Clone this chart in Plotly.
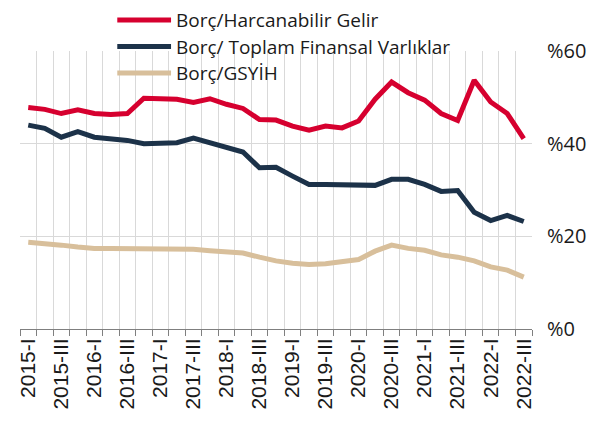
import plotly.graph_objects as go

categories = [f"{y}-{q}" for y in range(2015, 2023) for q in ["I", "II", "III", "IV"]][:31]

borc_harcanabilir = [47.8, 47.4, 46.5, 47.3, 46.5, 46.3, 46.5, 49.8, 49.7, 49.6,
                     48.9, 49.7, 48.5, 47.6, 45.2, 45.1, 43.8, 42.9, 43.8, 43.4,
                     44.9, 49.6, 53.3, 51.0, 49.4, 46.5, 45.0, 53.7, 49.0, 46.5, 41.1]
borc_finansal = [44.0, 43.3, 41.4, 42.6, 41.4, 41.1, 40.7, 40.0, 40.0, 40.2,
                 41.2, 40.2, 39.2, 38.2, 34.8, 34.9, 33.0, 31.2, 31.2, 31.2,
                 31.2, 31.0, 32.3, 32.3, 31.2, 29.7, 29.9, 25.2, 23.4, 24.5, 23.2]
borc_gsyih = [18.7, 18.5, 18.1, 17.7, 17.4, 17.4, 17.4, 17.4, 17.4, 17.3,
              17.2, 16.9, 16.6, 16.4, 15.5, 14.7, 14.2, 13.9, 14.1, 14.6,
              15.0, 16.8, 18.1, 17.4, 17.0, 16.0, 15.5, 14.7, 13.4, 12.7, 11.2]

series_names = ["Borç/Harcanabilir Gelir", "Borç/ Toplam Finansal Varlıklar", "Borç/GSYİH"]
series_colors = ["#D6002F", "#1C3249", "#D8BF9B"]
series_values = [borc_harcanabilir, borc_finansal, borc_gsyih]

y_ticks = [0, 20, 40, 60]
y_ticktext = ["%0", "%20", "%40", "%60"]

xs = list(range(len(categories)))

fig = go.Figure()
for name, color, vals in zip(series_names, series_colors, series_values):
    fig.add_trace(go.Scatter(x=xs, y=vals, mode="lines", name=name,
                             line=dict(color=color, width=5),
                             showlegend=False))

# manual legend (longer line samples like the reference)
leg_y = [1.1115, 1.016, 0.921]
for name, color, yy in zip(series_names, series_colors, leg_y):
    fig.add_shape(type="line", xref="paper", yref="paper",
                  x0=0.190, x1=0.295, y0=yy, y1=yy,
                  line=dict(color=color, width=5))
    fig.add_annotation(xref="paper", yref="paper", x=0.301, y=yy,
                       text=name, showarrow=False, xanchor="left", yanchor="middle",
                       font=dict(family="Open Sans", size=19, color="#1a1a1a"))

# the page has an 8px body margin, so the figure is sized to fit the window
fig.update_layout(
    width=600, height=416,
    margin=dict(l=8, r=76, t=43, b=95),
    paper_bgcolor="white", plot_bgcolor="white",
    showlegend=False,
    font=dict(family="Open Sans", color="#1a1a1a"),
)

fig.update_xaxes(
    range=[-0.5, len(categories) - 0.5],
    tickmode="array",
    tickvals=xs[::2], ticktext=categories[::2],
    tickangle=-90,
    tickfont=dict(family="Liberation Sans Narrow, Arial Narrow, sans-serif", size=21, color="#1a1a1a"),
    showgrid=False, ticks="",
    showline=True, linecolor="#7f7f7f", linewidth=1,
    zeroline=False,
    minor=dict(tickmode="array", tickvals=[i - 0.5 for i in range(len(categories) + 1)],
               showgrid=True, gridcolor="#d9d9d9", gridwidth=1,
               ticks="outside", ticklen=6, tickcolor="#7f7f7f", tickwidth=1),
)

fig.update_yaxes(
    side="right", range=[0, 60],
    tickmode="array", tickvals=y_ticks, ticktext=y_ticktext,
    tickfont=dict(family="Open Sans", size=20, color="#1a1a1a"),
    showgrid=True, gridcolor="#d9d9d9", gridwidth=1,
    zeroline=False, ticks="", ticklabelstandoff=14,
)

fig.write_html("out.html")
